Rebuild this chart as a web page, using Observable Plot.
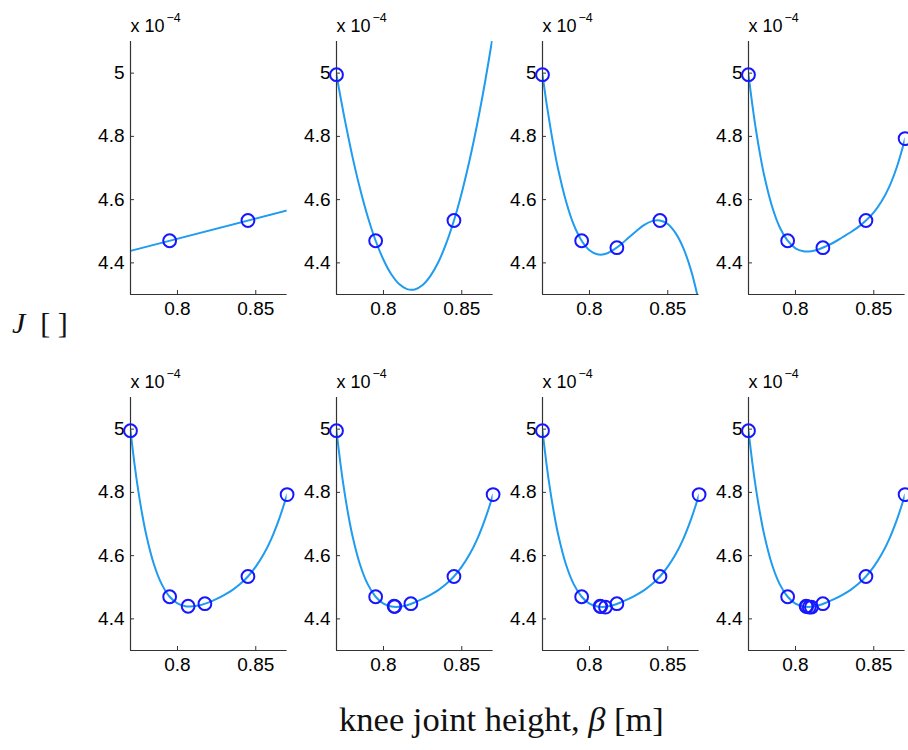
<!DOCTYPE html>
<html>
<head>
<meta charset="utf-8">
<script src="https://cdn.jsdelivr.net/npm/d3@7"></script>
<script src="https://cdn.jsdelivr.net/npm/@observablehq/plot@0.6"></script>
<style>
  html, body { margin: 0; padding: 0; background: #fff; }
  body { width: 908px; height: 750px; overflow: hidden; position: relative; }
  #chart { position: absolute; left: 0; top: 0; width: 908px; height: 750px; }
  .panel { position: absolute; width: 217px; }
  .panel svg { overflow: visible; max-width: none !important; }
  #xlabel { position: absolute; left: 0; width: 1003px; text-align: center; top: 700px;
            font-family: "Liberation Serif", "DejaVu Serif", serif; font-size: 34.5px; color: #111; white-space: nowrap; }
  #ylabel { position: absolute; left: 12px; top: 306px;
            font-family: "Liberation Serif", "DejaVu Serif", serif; font-size: 30px; color: #111; white-space: nowrap; }
</style>
</head>
<body>
<div id="chart"></div>
<div id="ylabel"><i>J</i>&nbsp;&nbsp;[&nbsp;]</div>
<div id="xlabel">knee joint height, <i>β</i> [m]</div>
<script>
// ---- data ----
const xTicks = [0.8, 0.85];
const yTicks = [4.4, 4.6, 4.8, 5];
const betaDomain = [0.77, 0.87];
const jDomain = [4.3, 5.1];

// evaluated points (in order of evaluation), J in units of 1e-4
const betaEval = [0.795, 0.845, 0.77, 0.8175, 0.87, 0.8068, 0.8072, 0.8102, 0.8088];
const jEval    = [4.470, 4.534, 4.995, 4.448, 4.793, 4.440, 4.439, 4.437, 4.437];
const pointsShown = [2, 3, 4, 5, 6, 7, 8, 9];

// fitted curves
const line1Beta = [0.77, 0.87];
const line1J = [4.438, 4.566];
const curveBeta = [0.77, 0.7725, 0.775, 0.7775, 0.78, 0.785, 0.79, 0.795, 0.80, 0.805, 0.81, 0.815,
                   0.82, 0.825, 0.83, 0.835, 0.84, 0.845, 0.85, 0.855, 0.86, 0.865, 0.87];
const curveJ2 = [4.995, 4.926, 4.860, 4.799, 4.740, 4.635, 4.545, 4.470, 4.410, 4.364, 4.333, 4.317,
                 4.316, 4.330, 4.359, 4.402, 4.461, 4.534, 4.622, 4.725, 4.843, 4.976, 5.123];
const curveJ3 = [4.995, 4.907, 4.829, 4.758, 4.696, 4.595, 4.520, 4.470, 4.440, 4.427, 4.428, 4.440,
                 4.458, 4.480, 4.501, 4.520, 4.532, 4.534, 4.523, 4.494, 4.446, 4.374, 4.274];
const curveJ4 = [4.995, 4.898, 4.813, 4.740, 4.677, 4.579, 4.512, 4.470, 4.446, 4.437, 4.437, 4.443,
                 4.454, 4.466, 4.481, 4.496, 4.513, 4.534, 4.560, 4.595, 4.642, 4.707, 4.793];
const curveJ5 = [4.995, 4.892, 4.804, 4.730, 4.667, 4.572, 4.509, 4.470, 4.449, 4.440, 4.440, 4.444,
                 4.452, 4.463, 4.476, 4.491, 4.510, 4.534, 4.565, 4.604, 4.654, 4.717, 4.793];
const curveJ6 = [4.995, 4.892, 4.804, 4.730, 4.667, 4.572, 4.509, 4.470, 4.448, 4.439, 4.438, 4.443,
                 4.452, 4.463, 4.476, 4.491, 4.510, 4.534, 4.565, 4.604, 4.654, 4.717, 4.793];
const curveJ7 = [4.995, 4.892, 4.804, 4.730, 4.667, 4.572, 4.509, 4.470, 4.448, 4.439, 4.438, 4.443,
                 4.452, 4.463, 4.476, 4.491, 4.510, 4.534, 4.565, 4.604, 4.654, 4.717, 4.793];
const curveJ8 = [4.995, 4.892, 4.804, 4.730, 4.667, 4.572, 4.509, 4.470, 4.448, 4.439, 4.438, 4.443,
                 4.452, 4.463, 4.476, 4.491, 4.510, 4.534, 4.565, 4.604, 4.654, 4.717, 4.793];

const curves = [
  {beta: line1Beta, J: line1J},
  {beta: curveBeta, J: curveJ2},
  {beta: curveBeta, J: curveJ3},
  {beta: curveBeta, J: curveJ4},
  {beta: curveBeta, J: curveJ5},
  {beta: curveBeta, J: curveJ6},
  {beta: curveBeta, J: curveJ7},
  {beta: curveBeta, J: curveJ8}
];

// ---- layout ----
const ML = 50, PW = 156.6, W = 217, MR = W - ML - PW;
const MT = 41, PH = 253, MB = 40, H = MT + PH + MB;
const firstAxisX = 129.7, colStep = 206, rowTops = [0, 356.3];
const lineColor = "#1f9bf0", dotColor = "#1717ff", axisColor = "#333";
const font = "Liberation Sans";
const tickFont = 19;

const chart = document.getElementById("chart");
for (let i = 0; i < 8; i++) {
  const row = Math.floor(i / 4), col = i % 4;
  const pts = betaEval.slice(0, pointsShown[i]).map((b, k) => ({beta: b, J: jEval[k]}));
  const cv = curves[i].beta.map((b, k) => ({beta: b, J: curves[i].J[k]}));
  const svg = Plot.plot({
    width: W, height: H,
    marginLeft: ML, marginRight: MR, marginTop: MT, marginBottom: MB,
    style: {fontFamily: font, fontSize: tickFont + "px", color: "#000", background: "transparent",
            overflow: "visible", maxWidth: "none"},
    x: {domain: betaDomain},
    y: {domain: jDomain},
    marks: [
      Plot.line(cv, {x: "beta", y: "J", stroke: lineColor, strokeWidth: 2,
                     curve: i === 0 ? "linear" : "catmull-rom", clip: true}),
      Plot.ruleX([betaDomain[0]], {stroke: axisColor, strokeWidth: 1.2}),
      Plot.ruleY([jDomain[0]], {stroke: axisColor, strokeWidth: 1.2}),
      Plot.axisX({ticks: xTicks, tickSize: -4, tickPadding: 11, label: null, stroke: axisColor,
                  fontSize: tickFont, fontFamily: font, fill: "#000",
                  tickFormat: d => String(d)}),
      Plot.axisY({ticks: yTicks, tickSize: -4, tickPadding: 10, label: null, stroke: axisColor,
                  fontSize: tickFont, fontFamily: font, fill: "#000",
                  tickFormat: d => String(d)}),
      Plot.dot(pts, {x: "beta", y: "J", r: 6.4, stroke: dotColor, strokeWidth: 2, fill: "none"}),
      Plot.text(["x 10"], {frameAnchor: "top-left", textAnchor: "start", lineAnchor: "bottom",
                           dy: -10, fontSize: 18, fontFamily: font, fill: "#000"}),
      Plot.text(["\u22124"], {frameAnchor: "top-left", textAnchor: "start", lineAnchor: "bottom",
                           dx: 36, dy: -20, fontSize: 12.5, fontFamily: font, fill: "#000"})
    ]
  });
  const wrap = document.createElement("div");
  wrap.className = "panel";
  wrap.style.left = (firstAxisX + col * colStep - ML) + "px";
  wrap.style.top = rowTops[row] + "px";
  wrap.appendChild(svg);
  chart.appendChild(wrap);
}
</script>
</body>
</html>
